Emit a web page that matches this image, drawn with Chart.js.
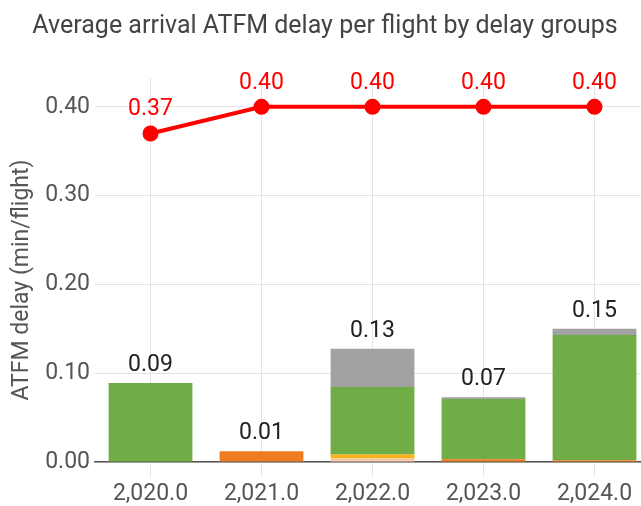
<!DOCTYPE html>
<html>
<head>
<meta charset="utf-8">
<script src="https://cdn.jsdelivr.net/npm/chart.js@4"></script>
<style>
  body { margin: 0; overflow: hidden; background: #fff; }
  #wrap { width: 660px; height: 506px; }
</style>
</head>
<body>
<div id="wrap"><canvas id="chart" width="660" height="506"></canvas></div>
<script>
const years = ['2,020.0', '2,021.0', '2,022.0', '2,023.0', '2,024.0']

// delay groups, stacked bottom to top
const groupPeach  = [0, 0, 0.004, 0, 0]
const groupYellow = [0, 0, 0.0045, 0, 0]
const groupOrange = [0, 0.012, 0, 0.003, 0.002]
const groupGreen  = [0.089, 0, 0.076, 0.068, 0.141]
const groupGrey   = [0, 0, 0.043, 0.002, 0.007]

const targetLine = [0.37, 0.40, 0.40, 0.40, 0.40]

const yTicks = [0, 0.1, 0.2, 0.3, 0.4]

const barSets = [groupPeach, groupYellow, groupOrange, groupGreen, groupGrey]
const barColors = ['#F8CBAD', '#FBB117', '#EE7D22', '#70AD47', '#A2A2A2']

const yTitle = 'ATFM delay (min/flight)'

const valueLabels = {
  id: 'valueLabels',
  afterDatasetsDraw(chart) {
    const ctx = chart.ctx
    const y = chart.scales.y
    ctx.save()
    ctx.font = '23px Roboto'
    ctx.textAlign = 'center'
    ctx.textBaseline = 'alphabetic'

    // totals above the stacks
    const meta = chart.getDatasetMeta(1)
    years.forEach((yr, i) => {
      let total = 0
      barSets.forEach(s => { total += s[i] })
      const x = meta.data[i].x
      ctx.fillStyle = '#222'
      ctx.fillText(total.toFixed(2), x, y.getPixelForValue(total) - 12)
    })

    // line values
    const lm = chart.getDatasetMeta(0)
    lm.data.forEach((pt, i) => {
      ctx.fillStyle = '#ff0000'
      ctx.fillText(targetLine[i].toFixed(2), pt.x, pt.y - 18)
    })

    // y axis title, sits a bit below the chart area middle
    ctx.translate(22, (chart.chartArea.top + chart.chartArea.bottom) / 2 + 10)
    ctx.rotate(-Math.PI / 2)
    ctx.textBaseline = 'middle'
    ctx.fillStyle = '#555'
    ctx.fillText(yTitle, 0, 0)
    ctx.restore()
  }
}

const datasets = [{
  type: 'line',
  label: 'Target',
  data: targetLine,
  borderColor: '#ff0000',
  backgroundColor: '#ff0000',
  borderWidth: 4,
  pointRadius: 6,
  pointHoverRadius: 6,
  order: 0,
  stack: 'line'
}]

barSets.forEach((s, i) => {
  datasets.push({
    type: 'bar',
    label: 'group ' + (i + 1),
    data: s,
    backgroundColor: barColors[i],
    borderWidth: 0,
    categoryPercentage: 1,
    barPercentage: 0.755,
    order: 1,
    stack: 'bars'
  })
})

const ctx = document.getElementById('chart')
const myChart = new Chart(ctx, {
  data: { labels: years, datasets: datasets },
  options: {
    responsive: false,
    animation: false,
    layout: { padding: { left: 0, right: 10, top: 0, bottom: 0 } },
    plugins: {
      legend: { display: false },
      tooltip: { enabled: false },
      title: {
        display: true,
        text: 'Average arrival ATFM delay per flight by delay groups',
        color: '#444',
        font: { family: 'Roboto', size: 25, weight: 'normal' },
        padding: { top: 12, bottom: 36 }
      }
    },
    scales: {
      x: {
        stacked: true,
        offset: true,
        grid: { offset: false, color: '#e4e4e4', drawTicks: true, tickLength: 15, tickColor: '#e4e4e4' },
        border: { display: true, color: '#555', width: 1.5 },
        ticks: { color: '#555', font: { family: 'Roboto', size: 23 }, padding: 3 },
        afterFit: s => { s.height = 44 }
      },
      y: {
        stacked: true,
        min: 0,
        max: 0.4325,
        afterBuildTicks: s => { s.ticks = yTicks.map(v => ({ value: v })) },
        grid: { color: '#e4e4e4', drawTicks: false },
        border: { display: false },
        ticks: {
          color: '#555',
          font: { family: 'Roboto', size: 23 },
          padding: 5,
          callback: v => Number(v).toFixed(2)
        },
        afterFit: s => { s.width = 95 }
      }
    }
  },
  plugins: [valueLabels]
})
</script>
</body>
</html>
